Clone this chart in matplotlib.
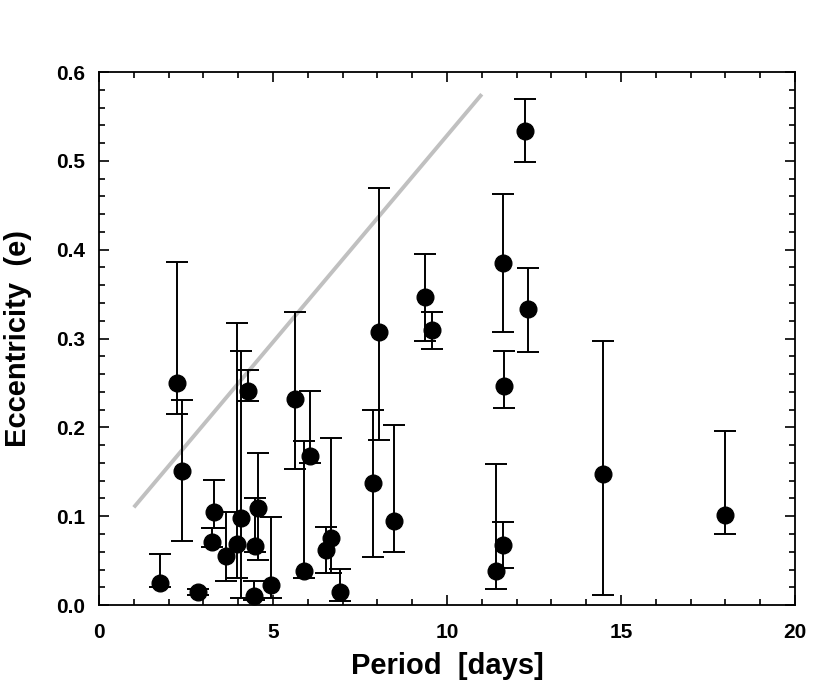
import matplotlib
matplotlib.use('Agg')
import matplotlib.pyplot as plt
from matplotlib.ticker import MultipleLocator

plt.rcParams['font.family'] = ['Liberation Sans', 'DejaVu Sans']
plt.rcParams['font.weight'] = 'bold'

# orbital period [days], eccentricity, upper / lower error bar ends
period = [1.76, 2.24, 2.38, 2.84, 3.24, 3.31, 3.66, 3.96, 4.09, 4.28,
          4.57, 4.48, 4.44, 4.94, 5.62, 5.89, 6.06, 6.52, 6.66, 6.92,
          7.88, 8.06, 8.48, 9.38, 9.56, 12.23, 11.62, 12.33, 11.63, 11.41,
          11.61, 14.48, 17.99]
ecc = [0.0245, 0.250, 0.151, 0.0143, 0.071, 0.105, 0.055, 0.069, 0.098, 0.241,
       0.109, 0.066, 0.0105, 0.023, 0.232, 0.038, 0.168, 0.062, 0.076, 0.0143,
       0.137, 0.307, 0.095, 0.347, 0.310, 0.534, 0.385, 0.333, 0.247, 0.038,
       0.068, 0.148, 0.101]
ecc_hi = [0.058, 0.386, 0.2305, 0.018, 0.087, 0.141, 0.105, 0.318, 0.2865, 0.265,
          0.1715, 0.120, 0.027, 0.0995, 0.3296, 0.185, 0.241, 0.088, 0.1885, 0.041,
          0.2195, 0.4696, 0.2024, 0.3956, 0.3304, 0.5702, 0.4624, 0.379, 0.2865, 0.159,
          0.0938, 0.297, 0.196]
ecc_lo = [0.020, 0.215, 0.072, 0.011, 0.065, 0.087, 0.027, 0.031, 0.0083, 0.230,
          0.0507, 0.060, 0.0056, 0.0075, 0.153, 0.030, 0.160, 0.0364, 0.0364, 0.0049,
          0.0545, 0.1863, 0.0592, 0.2974, 0.2881, 0.4982, 0.3074, 0.2849, 0.2213, 0.0181,
          0.0419, 0.0109, 0.0801]

# grey envelope line
line_p = [1.0, 11.0]
line_e = [0.11, 0.575]

err_up = [h - e for h, e in zip(ecc_hi, ecc)]
err_dn = [e - l for e, l in zip(ecc, ecc_lo)]

fig = plt.figure(figsize=(8.3, 6.86), dpi=100)
ax = fig.add_axes([0.1193, 0.118, 0.8385, 0.777])

ax.plot(line_p, line_e, color='#c0c0c0', lw=2.8, solid_capstyle='butt')
ax.errorbar(period, ecc, yerr=[err_dn, err_up], fmt='o', color='black',
            ms=12, elinewidth=1.4, capsize=8, capthick=1.4)

ax.set_xlim(0, 20)
ax.set_ylim(0, 0.6)
ax.xaxis.set_major_locator(MultipleLocator(5))
ax.xaxis.set_minor_locator(MultipleLocator(1))
ax.yaxis.set_major_locator(MultipleLocator(0.1))
ax.yaxis.set_minor_locator(MultipleLocator(0.02))
ax.yaxis.set_major_formatter(plt.FuncFormatter(lambda v, p: '%.1f' % v))
ax.tick_params(which='both', direction='in', top=True, right=True, width=1.2)
ax.tick_params(which='major', length=7, labelsize=15)
ax.tick_params(axis='x', which='major', pad=13)
ax.tick_params(axis='y', which='major', pad=10)
ax.tick_params(which='minor', length=4)
for s in ax.spines.values():
    s.set_linewidth(1.3)

ax.set_xlabel('Period  [days]', fontsize=21, fontweight='bold', labelpad=7)
ax.set_ylabel('Eccentricity  (e)', fontsize=21, fontweight='bold', labelpad=17)

fig.savefig('out.png', dpi=100)
